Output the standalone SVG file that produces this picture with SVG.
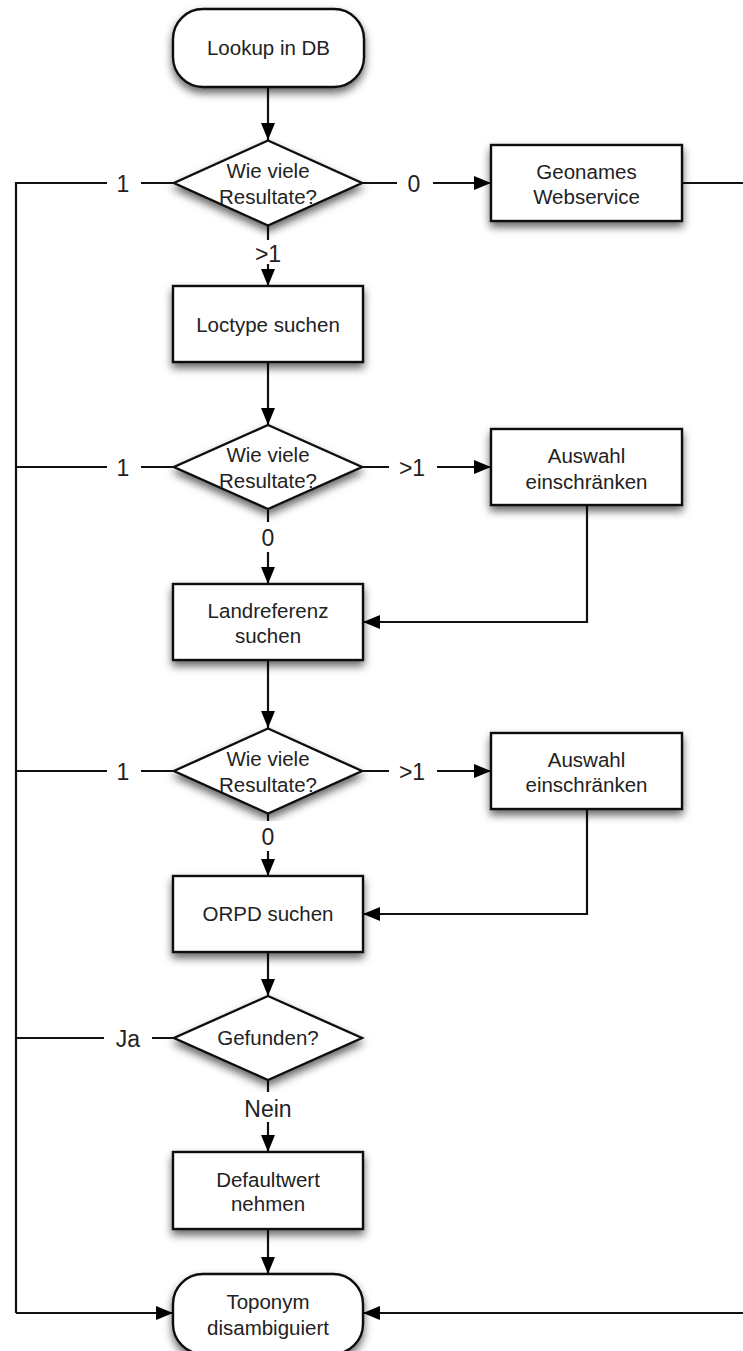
<svg xmlns="http://www.w3.org/2000/svg" width="743" height="1351" viewBox="0 0 743 1351">
  <defs>
    <filter id="shadow" x="-20%" y="-20%" width="140%" height="160%">
      <feDropShadow dx="0" dy="5" stdDeviation="4" flood-color="#000" flood-opacity="0.6"/>
    </filter>
    <marker id="arrow" markerUnits="userSpaceOnUse" markerWidth="18" markerHeight="15" viewBox="0 0 18 15" refX="17" refY="7.5" orient="auto">
      <path d="M0,0.5 L17,7.5 L0,14.5 z" fill="#000"/>
    </marker>
  </defs>
  <style>
    .node { fill: #fff; stroke: #111; stroke-width: 2.4; filter: url(#shadow); }
    .conn { fill: none; stroke: #111; stroke-width: 2.2; }
    .arr { marker-end: url(#arrow); }
    .t { font-family: "Liberation Sans", Arial, sans-serif; font-size: 20.5px; fill: #222; text-anchor: middle; }
    .lbl { font-family: "Liberation Sans", Arial, sans-serif; font-size: 23px; fill: #222; text-anchor: middle; }
    .lblbg { fill: #fff; }
  </style>
  <rect width="743" height="1351" fill="#fff"/>

  <!-- connectors -->
  <g id="connectors">
    <path class="conn arr" d="M268,87 V140"/>
    <!-- first decision: branches -->
    <path class="conn" d="M174,183 H16 V1313"/>
    <path class="conn arr" d="M16,1313 H173"/>
    <path class="conn arr" d="M362,183 H491"/>
    <path class="conn" d="M682,183 H760 V1313"/>
    <path class="conn arr" d="M760,1313 H363"/>
    <path class="conn arr" d="M268,225 V286"/>
    <!-- Loctype to second decision -->
    <path class="conn arr" d="M268,362 V425"/>
    <path class="conn" d="M174,467 H16"/>
    <path class="conn arr" d="M362,467 H491"/>
    <path class="conn arr" d="M587,505 V622 H363"/>
    <path class="conn arr" d="M268,509 V584"/>
    <!-- Landreferenz to third decision -->
    <path class="conn arr" d="M268,660 V728"/>
    <path class="conn" d="M174,771 H16"/>
    <path class="conn arr" d="M362,771 H491"/>
    <path class="conn arr" d="M587,809 V914 H363"/>
    <path class="conn arr" d="M268,813 V876"/>
    <!-- ORPD to "Gefunden?" -->
    <path class="conn arr" d="M268,952 V996"/>
    <path class="conn" d="M174,1038 H16"/>
    <path class="conn arr" d="M268,1080 V1152"/>
    <path class="conn arr" d="M268,1229 V1274"/>
  </g>

  <!-- nodes -->
  <g id="lookup">
    <rect class="node" x="173" y="9" width="191" height="78" rx="30" ry="30"/>
    <text class="t" x="268.5" y="55">Lookup in DB</text>
  </g>
  <g id="decision1">
    <polygon class="node" points="268,140.5 362,183 268,225.5 174,183"/>
    <text class="t" x="268" y="178">Wie viele</text>
    <text class="t" x="268" y="204">Resultate?</text>
  </g>
  <g id="geonames">
    <rect class="node" x="491" y="145" width="191" height="76"/>
    <text class="t" x="586.5" y="179">Geonames</text>
    <text class="t" x="586.5" y="204">Webservice</text>
  </g>
  <g id="loctype">
    <rect class="node" x="173" y="286" width="190" height="76"/>
    <text class="t" x="268" y="332">Loctype suchen</text>
  </g>
  <g id="decision2">
    <polygon class="node" points="268,425 362,467 268,509 174,467"/>
    <text class="t" x="268" y="462">Wie viele</text>
    <text class="t" x="268" y="488">Resultate?</text>
  </g>
  <g id="auswahl1">
    <rect class="node" x="491" y="429" width="191" height="76"/>
    <text class="t" x="586.5" y="463">Auswahl</text>
    <text class="t" x="586.5" y="489">einschränken</text>
  </g>
  <g id="landreferenz">
    <rect class="node" x="173" y="584" width="190" height="76"/>
    <text class="t" x="268" y="618">Landreferenz</text>
    <text class="t" x="268" y="643">suchen</text>
  </g>
  <g id="decision3">
    <polygon class="node" points="268,728.5 362,771 268,813.5 174,771"/>
    <text class="t" x="268" y="766">Wie viele</text>
    <text class="t" x="268" y="792">Resultate?</text>
  </g>
  <g id="auswahl2">
    <rect class="node" x="491" y="733" width="191" height="76"/>
    <text class="t" x="586.5" y="767">Auswahl</text>
    <text class="t" x="586.5" y="792">einschränken</text>
  </g>
  <g id="orpd">
    <rect class="node" x="173" y="876" width="190" height="76"/>
    <text class="t" x="268" y="921">ORPD suchen</text>
  </g>
  <g id="decision4">
    <polygon class="node" points="268,996 362,1038 268,1080 174,1038"/>
    <text class="t" x="268" y="1045">Gefunden?</text>
  </g>
  <g id="defaultwert">
    <rect class="node" x="173" y="1152" width="190" height="77"/>
    <text class="t" x="268" y="1187">Defaultwert</text>
    <text class="t" x="268" y="1211">nehmen</text>
  </g>
  <g id="toponym">
    <rect class="node" x="173" y="1274" width="190" height="80" rx="30" ry="30"/>
    <text class="t" x="268" y="1309">Toponym</text>
    <text class="t" x="268" y="1335">disambiguiert</text>
  </g>

  <!-- connector labels -->
  <g id="labels">
    <rect class="lblbg" x="107" y="170" width="34" height="28"/>
    <text class="lbl" x="123" y="192">1</text>
    <rect class="lblbg" x="397" y="170" width="36" height="28"/>
    <text class="lbl" x="414" y="192">0</text>
    <rect class="lblbg" x="249" y="240" width="38" height="24"/>
    <text class="lbl" x="268" y="262">&gt;1</text>

    <rect class="lblbg" x="107" y="454" width="34" height="28"/>
    <text class="lbl" x="123" y="476">1</text>
    <rect class="lblbg" x="389" y="454" width="48" height="28"/>
    <text class="lbl" x="412" y="476">&gt;1</text>
    <rect class="lblbg" x="250" y="522" width="36" height="30"/>
    <text class="lbl" x="268" y="546">0</text>

    <rect class="lblbg" x="107" y="758" width="34" height="28"/>
    <text class="lbl" x="123" y="780">1</text>
    <rect class="lblbg" x="389" y="758" width="48" height="28"/>
    <text class="lbl" x="412" y="780">&gt;1</text>
    <rect class="lblbg" x="250" y="821" width="36" height="30"/>
    <text class="lbl" x="268" y="845">0</text>

    <rect class="lblbg" x="104" y="1025" width="48" height="28"/>
    <text class="lbl" x="128" y="1047">Ja</text>
    <rect class="lblbg" x="236" y="1092" width="64" height="30"/>
    <text class="lbl" x="268" y="1117">Nein</text>
  </g>
</svg>
